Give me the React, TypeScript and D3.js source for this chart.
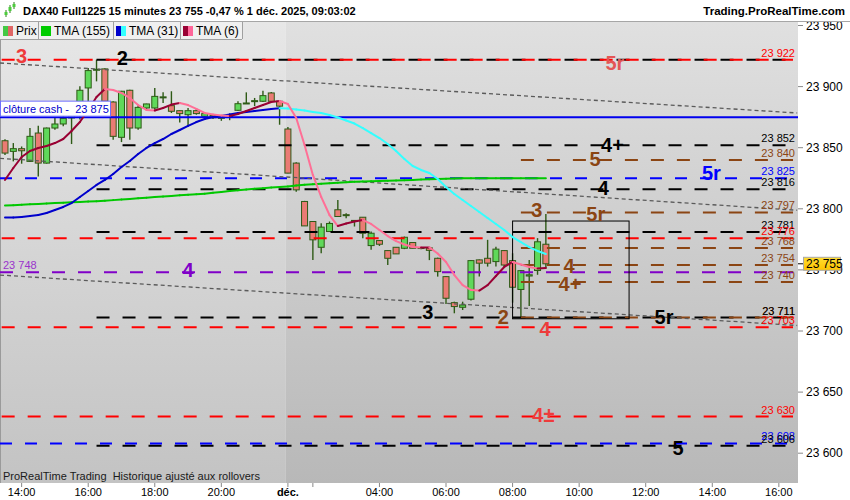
import React, { useEffect, useRef } from 'react'
import * as d3 from 'd3'

const FONT = '"Liberation Sans", Arial, sans-serif'

// 15 min candles : Friday 13:30 -> 21:45, Monday 01:15 -> 09:00
const opens = [
  23855.7, 23847, 23849.2, 23838.8, 23862, 23837.4, 23866.1, 23869.4, 23874.3, 23885.2,
  23898.9, 23914, 23914.5, 23887.4, 23858.5, 23897, 23866.1, 23882.5, 23882.5, 23891.4,
  23884.4, 23880.3, 23877, 23880.3, 23875.7, 23876.5, 23874, 23875, 23880.6, 23886.5,
  23888.5, 23888, 23894.8, 23888,
  23865.3, 23837.4, 23806, 23789.6, 23768.5, 23781.4, 23799.2, 23795.2, 23790.5, 23793.1,
  23769.9, 23774, 23765.8, 23768.5, 23767.7, 23772.4, 23768.3, 23768, 23759.5, 23744.5,
  23723.2, 23719.4, 23726, 23758.2, 23759.5, 23756.8, 23765.8, 23757.6, 23734, 23745,
  23749.5, 23771
]
const highs = [
  23857, 23853.8, 23851, 23866.1, 23868, 23866.5, 23874.8, 23879.8, 23886.6, 23900.3,
  23915.3, 23922, 23915, 23888, 23896.5, 23897.5, 23885, 23886, 23898.9, 23895.3,
  23896.2, 23880.5, 23882.5, 23882.5, 23877.9, 23877, 23876, 23878, 23888, 23895.3,
  23890.7, 23896.7, 23895.5, 23888.5,
  23867, 23838, 23806.5, 23790, 23788.2, 23789.6, 23807.3, 23796.4, 23790.6, 23793.1,
  23781.4, 23774.5, 23766, 23768.5, 23777.3, 23772.4, 23768.5, 23768.5, 23760, 23745,
  23724, 23724, 23758, 23758.5, 23774.6, 23769, 23766, 23763.6, 23750, 23758,
  23776, 23795.7
]
const lows = [
  23844, 23838.8, 23836.9, 23838.2, 23826.5, 23837, 23864.7, 23867.5, 23853, 23873,
  23886.6, 23904.3, 23888, 23856.5, 23854.6, 23856.5, 23864.7, 23881, 23879.8, 23886.6,
  23878.4, 23870.7, 23868, 23877, 23873, 23873.5, 23872, 23872.5, 23880, 23886,
  23884, 23887.5, 23887.5, 23868.8,
  23829, 23814, 23786, 23758.2, 23763.6, 23781, 23793.7, 23792.3, 23785.5, 23775.9,
  23766.4, 23769.6, 23754, 23763, 23767, 23767.7, 23767, 23758, 23744.5, 23722.1,
  23714.5, 23717.2, 23725, 23744.5, 23752.7, 23752.7, 23753, 23723.2, 23710.4, 23720.5,
  23746, 23751.4
]
const closes = [
  23845.6, 23849.2, 23847.5, 23859.3, 23837.4, 23866.1, 23869.4, 23874, 23885.2, 23897,
  23913.1, 23914.2, 23888, 23859.3, 23896.2, 23866.1, 23883, 23885.8, 23892, 23891.6,
  23879.8, 23877.9, 23880.3, 23877.9, 23877.9, 23874.5, 23875, 23876, 23886, 23886.6,
  23888.5, 23892.6, 23888, 23884,
  23829.2, 23815.5, 23786, 23774.6, 23785, 23788, 23793.7, 23795, 23790.3, 23780,
  23780, 23771, 23759.5, 23763.1, 23776.7, 23767.7, 23768, 23766, 23748.6, 23726.8,
  23720, 23721.3, 23757.6, 23755.5, 23755.5, 23767, 23754, 23735.8, 23749.4, 23746,
  23773, 23755
]

const tma155 = [
  23802.7, 23803.0, 23803.3, 23803.7, 23804.0, 23804.3, 23804.7, 23805.0, 23805.3, 23805.6,
  23805.9, 23806.2, 23806.6, 23807.1, 23807.6, 23808.1, 23808.6, 23809.1, 23809.6, 23810.0,
  23810.5, 23811.0, 23811.5, 23812.0, 23812.4, 23813.2, 23813.8, 23814.5, 23815.1, 23815.7,
  23816.4, 23816.9, 23817.4, 23817.9,
  23818.3, 23819.1, 23819.6, 23820.1, 23820.5, 23821.0, 23821.4, 23821.8, 23822.1, 23822.3,
  23822.5, 23822.7, 23823.0, 23823.2, 23823.4, 23823.6, 23823.9, 23824.1, 23824.3, 23824.6,
  23824.8, 23825.0, 23825.0, 23825.0, 23825.0, 23825.0, 23825.0, 23825.0, 23825.0, 23825.0,
  23825.0, 23825.0
]
const tma31 = [
  23792.9, 23792.9, 23793.3, 23794.1, 23794.9, 23796.6, 23799, 23801.5, 23804.7, 23809.7,
  23814.6, 23819.5, 23823.6, 23828.5, 23834.2, 23839.1, 23844.8, 23849.8, 23853.8, 23857.1,
  23861.2, 23864.5, 23867.8, 23871, 23873.5, 23875.1, 23875.9, 23877.2, 23878.4, 23879.2,
  23880, 23880.9, 23881.6, 23882.3,
  23882.0, 23881.3, 23880.5, 23879.2, 23878.4, 23876.8, 23874.7, 23872.3, 23869.8, 23866.1,
  23862, 23857.9, 23853, 23847.3, 23840.8, 23835, 23831.8, 23829.3, 23824.4, 23817.8,
  23812.1, 23807.2, 23802.3, 23797.4, 23792.5, 23787.6, 23782.7, 23776.9, 23772.8, 23768.7,
  23765.5, 23763
]
const tma6 = [
  23823.6, 23833.4, 23842.4, 23847.3, 23849.8, 23851.4, 23853.8, 23857.1, 23863.7, 23871,
  23880.9, 23891.5, 23898, 23897.2, 23894.8, 23890.7, 23884.9, 23880.9, 23880.5, 23882.5,
  23885.3, 23886.6, 23884.9, 23881.7, 23878.4, 23877.2, 23876.4, 23875.9, 23877.6, 23880,
  23882.5, 23884.9, 23887.4, 23888.2,
  23885.8, 23874.3, 23852.2, 23827.7, 23809.7, 23794.9, 23785.9, 23788, 23789.6, 23790.8,
  23787.6, 23782.7, 23777.7, 23773.6, 23770.8, 23768.7, 23768.3, 23768.4, 23763.4, 23756.5,
  23745.8, 23737.6, 23733.6, 23733.1, 23737.6, 23745, 23752.4, 23756.5, 23754.4, 23752.4,
  23751.1, 23751.5
]

const timeTickBars = [2, 10, 18, 26, 34, 37, 45, 53, 61, 69, 77, 85, 93]
const timeTickLabels = ['14:00', '16:00', '18:00', '20:00', 'déc.', '', '04:00', '06:00', '08:00', '10:00', '12:00', '14:00', '16:00']
const priceTicks = [23950, 23900, 23850, 23800, 23750, 23700, 23650, 23600]

// horizontal levels
const blackLevels = [23922, 23852, 23816, 23781, 23711, 23606]
const brownLevels = [23840, 23797, 23768, 23754, 23740, 23711]
const redLevels = [23922, 23776, 23703, 23630]
const blueLevels = [23825, 23608]
const purpleLevel = 23748
const cashClose = 23875
const lastPrice = 23755

// value tags on the right edge
const tagValues = [23922, 23852, 23840, 23825, 23816, 23797, 23781, 23776, 23768, 23754, 23740, 23711, 23711, 23703, 23630, 23608, 23606]
const tagKinds = ['red', 'black', 'brown', 'blue', 'black', 'brown', 'black', 'red', 'brown', 'brown', 'brown', 'brown', 'black', 'red', 'red', 'blue', 'black']

// channel lines [bar, price] -> [bar, price]
const trendStart = [[-0.6, 23919.3], [-0.6, 23841.3], [-0.6, 23745.8]]
const trendEnd = [[95.2, 23878.4], [95.2, 23798.8], [95.2, 23704.5]]

// box
const boxBars = [61, 75]
const boxPrices = [23790, 23710]

// annotations
const noteTexts = ['3', '2', '5r', '4+', '5', '5r', '4', '3', '5r', '4', '4', '4+', '3', '2', '5r', '4', '4±', '5']
const noteBars = [2.0, 14.1, 73.3, 73, 70.9, 84.9, 71.9, 63.9, 71, 22, 67.8, 67.9, 50.8, 59.9, 79.2, 64.9, 64.7, 80.9]
const notePrices = [23919.3, 23917.7, 23913.6, 23846.5, 23835, 23823.6, 23811.3, 23793.3, 23790, 23744.2, 23747.5, 23732.7, 23709.8, 23705.7, 23705.7, 23695.9, 23625.5, 23598.5]
const noteKinds = ['lred', 'black', 'pred', 'black', 'brown', 'blue', 'black', 'brown', 'brown', 'purple', 'brown', 'brown', 'black', 'brown', 'black', 'lred', 'lred', 'black']

const colors: Record<string, string> = {
  black: '#000000',
  red: '#ff0000',
  lred: '#ee3b3b',
  pred: '#e35656',
  brown: '#8b4513',
  blue: '#0000ff',
  purple: '#8000c8'
}

const App: React.FC = () => {
  const svgRef = useRef<SVGSVGElement>(null)

  useEffect(() => {
    if (!svgRef.current) return
    const svg = d3.select(svgRef.current)
    svg.selectAll('*').remove()

    const plotRight = 798
    const plotTop = 22
    const plotBottom = 483
    const lineEnd = 793

    const x = d3.scaleLinear().domain([-0.6, 94.7]).range([0, 793])
    const y = d3.scaleLinear().domain([23700, 23950]).range([331, 25.5])

    const defs = svg.append('defs')
    const mkGrad = (id: string, top: string, bottom: string) => {
      const g = defs.append('linearGradient').attr('id', id).attr('x1', 0).attr('y1', 0).attr('x2', 0).attr('y2', 1)
      g.append('stop').attr('offset', '0%').attr('stop-color', top)
      g.append('stop').attr('offset', '100%').attr('stop-color', bottom)
    }
    mkGrad('bgLeft', '#e7e7e7', '#c3c3c3')
    mkGrad('bgRight', '#e0e0e0', '#b8b8b8')
    mkGrad('tagGrad', '#ffdd33', '#ffc400')
    defs.append('clipPath').attr('id', 'plotClip')
      .append('rect').attr('x', 0).attr('y', plotTop).attr('width', plotRight).attr('height', plotBottom - plotTop)

    svg.append('rect').attr('width', 850).attr('height', 500).attr('fill', '#ffffff')

    // background
    const split = x(34) - 2
    svg.append('rect').attr('x', 0).attr('y', plotTop).attr('width', split).attr('height', plotBottom - plotTop).attr('fill', 'url(#bgLeft)')
    svg.append('rect').attr('x', split).attr('y', plotTop).attr('width', plotRight - split).attr('height', plotBottom - plotTop).attr('fill', 'url(#bgRight)')
    svg.append('line').attr('x1', 0.5).attr('x2', 0.5).attr('y1', plotTop).attr('y2', plotBottom).attr('stroke', '#9a9a9a')

    const plot = svg.append('g').attr('clip-path', 'url(#plotClip)')

    // candles
    const idx = d3.range(opens.length)
    const wickCol = '#2e5a16'
    plot.selectAll('.wick').data(idx).enter().append('line')
      .attr('x1', i => x(i)).attr('x2', i => x(i))
      .attr('y1', i => y(highs[i])).attr('y2', i => y(lows[i]))
      .attr('stroke', wickCol).attr('stroke-width', 1.4)
    plot.selectAll('.body').data(idx).enter().append('rect')
      .attr('x', i => x(i) - 3).attr('width', 6)
      .attr('y', i => y(Math.max(opens[i], closes[i])))
      .attr('height', i => Math.max(1, Math.abs(y(opens[i]) - y(closes[i]))))
      .attr('fill', i => (closes[i] >= opens[i] ? '#5fd85a' : '#ea7b74'))
      .attr('stroke', wickCol).attr('stroke-width', 1)

    // horizontal levels
    const hline = (p: number, startBar: number, col: string, dash: string, w = 2) => {
      plot.append('line')
        .attr('x1', x(startBar)).attr('x2', lineEnd)
        .attr('y1', y(p)).attr('y2', y(p))
        .attr('stroke', col).attr('stroke-width', w)
        .attr('stroke-dasharray', dash)
    }
    blackLevels.forEach(p => hline(p, 11, colors.black, '13,13'))
    brownLevels.forEach(p => hline(p, 62, colors.brown, '13,13'))
    redLevels.forEach(p => hline(p, -0.4, colors.red, '13,13'))
    blueLevels.forEach(p => hline(p, -0.6, colors.blue, '12,13'))
    hline(purpleLevel, -0.6, colors.purple, '13,13')
    plot.append('line').attr('x1', 0).attr('x2', plotRight).attr('y1', y(cashClose)).attr('y2', y(cashClose))
      .attr('stroke', '#0000ee').attr('stroke-width', 2)

    // channel lines
    trendStart.forEach((s, k) => {
      const e = trendEnd[k]
      plot.append('line')
        .attr('x1', x(s[0])).attr('y1', y(s[1]))
        .attr('x2', x(e[0])).attr('y2', y(e[1]))
        .attr('stroke', '#5a5a5a').attr('stroke-width', 1.3).attr('stroke-dasharray', '4,3')
    })

    // box
    plot.append('rect')
      .attr('x', x(boxBars[0])).attr('y', y(boxPrices[0]))
      .attr('width', x(boxBars[1]) - x(boxBars[0])).attr('height', y(boxPrices[1]) - y(boxPrices[0]))
      .attr('fill', 'none').attr('stroke', '#000').attr('stroke-width', 1)

    // two colour moving averages
    const twoTone = (vals: number[], up: string, down: string, w: number) => {
      for (let i = 0; i < vals.length - 1; i++) {
        plot.append('line')
          .attr('x1', x(i)).attr('y1', y(vals[i]))
          .attr('x2', x(i + 1)).attr('y2', y(vals[i + 1]))
          .attr('stroke', vals[i + 1] >= vals[i] ? up : down)
          .attr('stroke-width', w).attr('stroke-linecap', 'round')
      }
    }
    twoTone(tma155, '#00c800', '#00c800', 2)
    twoTone(tma31, '#0000cc', '#33ffff', 2)
    twoTone(tma6, '#990033', '#ff6f96', 2)

    // annotations
    noteTexts.forEach((t, k) => {
      plot.append('text')
        .attr('x', x(noteBars[k])).attr('y', y(notePrices[k]))
        .attr('text-anchor', 'middle')
        .style('font-family', FONT).style('font-size', '20px').style('font-weight', 'bold')
        .style('fill', colors[noteKinds[k]])
        .text(t)
    })

    // right value tags
    const fmt = (v: number) => d3.format(',')(v).replace(',', ' ')
    tagValues.forEach((v, k) => {
      plot.append('text')
        .attr('x', 795).attr('y', y(v) - 3)
        .attr('text-anchor', 'end')
        .style('font-family', FONT).style('font-size', '11px')
        .style('fill', colors[tagKinds[k]])
        .text(fmt(v))
    })

    // left labels
    plot.append('text').attr('x', 3).attr('y', y(purpleLevel) - 3)
      .style('font-family', FONT).style('font-size', '11px').style('fill', '#9a33cc')
      .text(fmt(purpleLevel))
    plot.append('rect').attr('x', 0.5).attr('y', y(cashClose) - 16).attr('width', 110).attr('height', 15)
      .attr('fill', '#ffffff').attr('stroke', '#6f6fff').attr('stroke-width', 1)
    plot.append('text').attr('x', 3).attr('y', y(cashClose) - 4.5)
      .style('font-family', FONT).style('font-size', '11px').style('fill', '#0000cc')
      .style('white-space', 'pre')
      .text(`clôture cash -  ${fmt(cashClose)}`)

    plot.append('text').attr('x', 3).attr('y', 480)
      .style('font-family', FONT).style('font-size', '11px').style('fill', '#1a1a1a')
      .style('white-space', 'pre')
      .text('ProRealTime Trading  Historique ajusté aux rollovers')

    // price axis
    const yAxis = svg.append('g')
    priceTicks.forEach(p => {
      yAxis.append('line').attr('x1', plotRight).attr('x2', plotRight + 5).attr('y1', y(p)).attr('y2', y(p))
        .attr('stroke', '#888')
      yAxis.append('text').attr('x', plotRight + 8).attr('y', y(p) + 4)
        .style('font-family', FONT).style('font-size', '12px').style('fill', '#000')
        .text(fmt(p))
    })
    const ly = y(lastPrice)
    yAxis.append('line').attr('x1', plotRight).attr('x2', 804).attr('y1', ly).attr('y2', ly).attr('stroke', '#000')
    yAxis.append('rect').attr('x', 803.5).attr('y', ly - 6.5).attr('width', 37).attr('height', 13)
      .attr('fill', 'url(#tagGrad)').attr('stroke', '#a8a8a8')
    yAxis.append('text').attr('x', 806).attr('y', ly + 4.5)
      .style('font-family', FONT).style('font-size', '12px').style('fill', '#000')
      .text(fmt(lastPrice))

    // time axis
    const xAxis = svg.append('g')
    timeTickBars.forEach((b, k) => {
      xAxis.append('line').attr('x1', x(b)).attr('x2', x(b)).attr('y1', plotBottom).attr('y2', plotBottom + 4)
        .attr('stroke', '#888')
      xAxis.append('text').attr('x', x(b)).attr('y', 496)
        .attr('text-anchor', 'middle')
        .style('font-family', FONT).style('font-size', '11px')
        .style('font-weight', timeTickLabels[k] === 'déc.' ? 'bold' : 'normal')
        .style('fill', '#000')
        .text(timeTickLabels[k])
    })

    // header
    svg.append('line').attr('x1', 0).attr('x2', 850).attr('y1', 21.5).attr('y2', 21.5).attr('stroke', '#a6a6a6')
    const icon = svg.append('g')
    ;[[6, 10, 17], [10, 5, 13], [14, 2, 9]].forEach(([cx, t, b]) => {
      icon.append('line').attr('x1', cx).attr('x2', cx).attr('y1', t).attr('y2', b).attr('stroke', '#2e7d1a')
      icon.append('rect').attr('x', cx - 1.5).attr('y', t + 2).attr('width', 3).attr('height', b - t - 4).attr('fill', '#4ccc3c')
    })
    svg.append('text').attr('x', 23).attr('y', 15)
      .style('font-family', FONT).style('font-size', '11px').style('font-weight', 'bold').style('fill', '#000')
      .text('DAX40 Full1225 15 minutes 23 755 -0,47 % 1 déc. 2025, 09:03:02')
    svg.append('text').attr('x', 845).attr('y', 15).attr('text-anchor', 'end')
      .style('font-family', FONT).style('font-size', '11.5px').style('font-weight', 'bold').style('fill', '#000')
      .text('Trading.ProRealTime.com')

    // legend
    const legend = svg.append('g')
    const legendEdges = [0, 38, 113, 180, 242]
    const legendNames = ['Prix', 'TMA (155)', 'TMA (31)', 'TMA (6)']
    const legendCols = [['#44c844', '#e06666'], ['#00cc00', '#00cc00'], ['#0000cc', '#33ffff'], ['#990033', '#ff6699']]
    legend.append('rect').attr('x', 0).attr('y', 22).attr('width', 242).attr('height', 17).attr('fill', '#f0f0f0')
    legendNames.forEach((n, k) => {
      const x0 = legendEdges[k]
      legend.append('line').attr('x1', legendEdges[k + 1] + 0.5).attr('x2', legendEdges[k + 1] + 0.5)
        .attr('y1', 22).attr('y2', 39).attr('stroke', '#a0a0a0')
      legend.append('rect').attr('x', x0 + 3).attr('y', 26).attr('width', 5).attr('height', 10).attr('fill', legendCols[k][0])
      legend.append('rect').attr('x', x0 + 8).attr('y', 26).attr('width', 5).attr('height', 10).attr('fill', legendCols[k][1])
      legend.append('text').attr('x', x0 + 16).attr('y', 35)
        .style('font-family', FONT).style('font-size', '12px').style('fill', '#000')
        .text(n)
    })
    legend.append('line').attr('x1', 0).attr('x2', 242).attr('y1', 39.5).attr('y2', 39.5).attr('stroke', '#a0a0a0')
  }, [])

  return (
    <svg ref={svgRef} width={850} height={500}
      style={{ position: 'absolute', left: 0, top: 0, display: 'block' }} />
  )
}

export default App
